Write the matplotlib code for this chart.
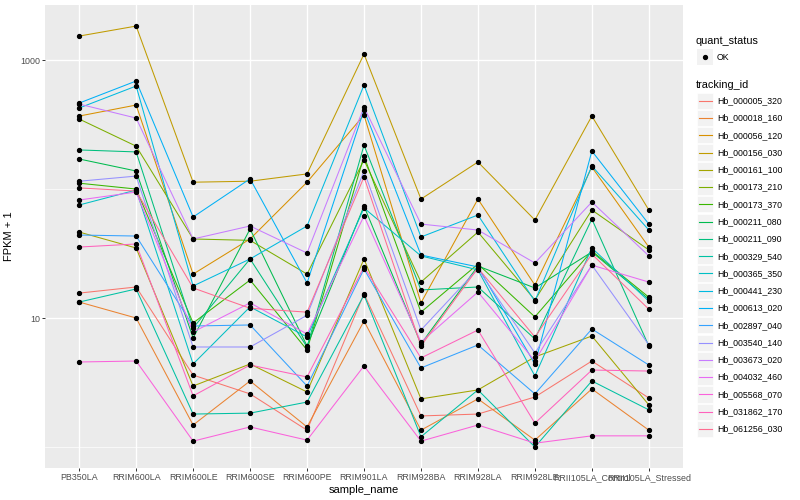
import matplotlib
matplotlib.use("Agg")
import matplotlib.pyplot as plt
from matplotlib.patches import Rectangle
from matplotlib.lines import Line2D
from matplotlib.ticker import FixedLocator, NullFormatter

plt.rcParams['font.family'] = ['Liberation Sans', 'DejaVu Sans']

samples = ["PB350LA", "RRIM600LA", "RRIM600LE", "RRIM600SE", "RRIM600PE",
           "RRIM901LA", "RRIM928BA", "RRIM928LA", "RRIM928LE",
           "RRII105LA_Control", "RRII105LA_Stressed"]

tracking_ids = ["Hb_000005_320", "Hb_000018_160", "Hb_000056_120", "Hb_000156_030",
                "Hb_000161_100", "Hb_000173_210", "Hb_000173_370", "Hb_000211_080",
                "Hb_000211_090", "Hb_000329_540", "Hb_000365_350", "Hb_000441_230",
                "Hb_000613_020", "Hb_002897_040", "Hb_003540_140", "Hb_003673_020",
                "Hb_004032_460", "Hb_005568_070", "Hb_031862_170", "Hb_061256_030"]

# FPKM + 1 values per sample (order as in `samples`)
hb_000005_320 = [15.6, 17.4, 3.61, 2.58, 1.35, 15.4, 1.74, 1.80, 2.44, 4.64, 2.40]
hb_000018_160 = [13.3, 10.0, 1.48, 3.25, 1.43, 9.48, 1.35, 2.36, 1.13, 2.82, 1.35]
hb_000056_120 = [368, 448, 21.9, 41.0, 113, 375, 13.1, 83.6, 18.0, 148, 35.5]
hb_000156_030 = [1535, 1835, 113, 115, 131, 1113, 83.6, 162, 57.5, 368, 68.8]
hb_000161_100 = [46.4, 34.9, 2.97, 4.40, 2.67, 28.7, 2.36, 2.77, 4.99, 7.25, 2.12]
hb_000173_210 = [349, 215, 41.0, 40.0, 21.9, 168, 19.0, 46.4, 13.8, 68.8, 33.7]
hb_000173_370 = [111, 100, 9.15, 19.7, 5.65, 180, 11.1, 26.2, 10.2, 33.1, 14.5]
hb_000211_080 = [171, 138, 7.00, 49.0, 6.07, 73.8, 6.29, 25.3, 17.1, 32.5, 14.0]
hb_000211_090 = [201, 194, 8.37, 28.7, 5.96, 219, 16.5, 17.4, 6.88, 58.5, 6.07]
hb_000329_540 = [13.3, 16.8, 1.80, 1.83, 2.23, 15.1, 1.20, 2.77, 1.00, 3.25, 1.94]
hb_000365_350 = [75.2, 98.2, 4.40, 12.2, 7.12, 71.3, 30.3, 23.6, 3.55, 34.9, 13.5]
hb_000441_230 = [425, 629, 17.7, 28.7, 51.7, 640, 42.5, 62.9, 13.5, 151, 48.1]
hb_000613_020 = [464, 688, 60.7, 120, 18.7, 410, 30.8, 24.9, 4.40, 197, 53.5]
hb_002897_040 = [44.0, 43.2, 8.67, 8.83, 2.97, 24.0, 4.10, 6.18, 2.58, 8.22, 4.32]
hb_003540_140 = [115, 126, 5.96, 5.96, 10.5, 138, 8.07, 24.0, 5.35, 25.7, 6.20]
hb_003673_020 = [456, 355, 41.0, 51.7, 31.9, 432, 53.5, 48.1, 26.7, 79.3, 30.3]
hb_004032_460 = [82.2, 94.8, 7.79, 13.1, 7.52, 61.8, 6.51, 15.9, 4.64, 25.7, 19.0]
hb_005568_070 = [4.56, 4.64, 1.11, 1.43, 1.13, 4.25, 1.11, 1.48, 1.07, 1.22, 1.22]
hb_031862_170 = [35.5, 37.5, 2.49, 4.32, 3.49, 24.9, 4.90, 8.07, 1.53, 3.95, 3.88]
hb_061256_030 = [102, 96.5, 17.1, 11.9, 11.1, 124, 6.07, 24.4, 7.12, 31.3, 11.7]

series = [hb_000005_320, hb_000018_160, hb_000056_120, hb_000156_030, hb_000161_100,
          hb_000173_210, hb_000173_370, hb_000211_080, hb_000211_090, hb_000329_540,
          hb_000365_350, hb_000441_230, hb_000613_020, hb_002897_040, hb_003540_140,
          hb_003673_020, hb_004032_460, hb_005568_070, hb_031862_170, hb_061256_030]

colors = ["#F8766D", "#EA8331", "#D89000", "#C09B00", "#A3A500", "#7CAE00", "#39B600",
          "#00BB4E", "#00BF7D", "#00C1A3", "#00BFC4", "#00BAE0", "#00B0F6", "#35A2FF",
          "#9590FF", "#C77CFF", "#E76BF3", "#FA62DB", "#FF62BC", "#FF6C91"]

W, H = 800, 500
fig = plt.figure(figsize=(W / 100, H / 100), dpi=100)
fig.patch.set_facecolor("white")

def fx(px):
    return px / W

def fy(py):
    return 1 - py / H

ax = fig.add_axes([fx(45), fy(468), (683 - 45) / W, (468 - 5) / H])
ax.set_facecolor("#EBEBEB")
ax.set_yscale("log")
ax.set_ylim(10 ** -0.163, 10 ** 3.427)
ax.set_xlim(0.4, len(samples) + 0.6)

xs = list(range(1, len(samples) + 1))

# grid
ax.yaxis.set_major_locator(FixedLocator([10, 1000]))
ax.yaxis.set_minor_locator(FixedLocator([1, 100]))
ax.yaxis.set_minor_formatter(NullFormatter())
ax.set_yticklabels(["10", "1000"])
ax.set_xticks(xs)
ax.set_xticklabels(samples)
ax.grid(True, which="major", color="white", linewidth=1.0)
ax.grid(True, which="minor", axis="y", color="white", linewidth=0.5)
ax.set_axisbelow(True)
for s in ax.spines.values():
    s.set_visible(False)
ax.tick_params(axis="both", which="major", length=2.2, width=0.7, color="#333333",
               labelsize=6.4, labelcolor="#4D4D4D", pad=1.5)
ax.tick_params(axis="y", which="minor", length=0)

for vals, c in zip(series, colors):
    ax.plot(xs, vals, color=c, linewidth=0.75, zorder=2)
for vals in series:
    ax.plot(xs, vals, linestyle="none", marker="o", markersize=2.8,
            color="black", zorder=3)

ax.set_xlabel("sample_name", fontsize=8, labelpad=2)
ax.set_ylabel("FPKM + 1", fontsize=8, labelpad=4)

# legend: quant_status
fig.text(fx(696), fy(40.5), "quant_status", fontsize=7.8, va="center", ha="left")
fig.add_artist(Rectangle((fx(697), fy(65)), 16 / W, 16 / H, transform=fig.transFigure,
                         facecolor="#F2F2F2", edgecolor="none"))
fig.add_artist(Line2D([fx(705)], [fy(57)], marker="o", markersize=2.8, color="black",
                      linestyle="none", transform=fig.transFigure))
fig.text(fx(717), fy(57), "OK", fontsize=6.3, va="center", ha="left")

# legend: tracking_id
fig.text(fx(696), fy(85), "tracking_id", fontsize=7.8, va="center", ha="left")
pitch = (429 - 100.7) / 19
for i, (tid, c) in enumerate(zip(tracking_ids, colors)):
    yc = 100.7 + i * pitch
    fig.add_artist(Rectangle((fx(697), fy(yc + 8.1)), 16 / W, 16.2 / H,
                             transform=fig.transFigure, facecolor="#F2F2F2",
                             edgecolor="white", linewidth=0.5))
    fig.add_artist(Line2D([fx(699), fx(712)], [fy(yc), fy(yc)], color=c, linewidth=0.8,
                          transform=fig.transFigure))
    fig.text(fx(717), fy(yc), tid, fontsize=6.3, va="center", ha="left")

fig.savefig("out.png", dpi=100)
